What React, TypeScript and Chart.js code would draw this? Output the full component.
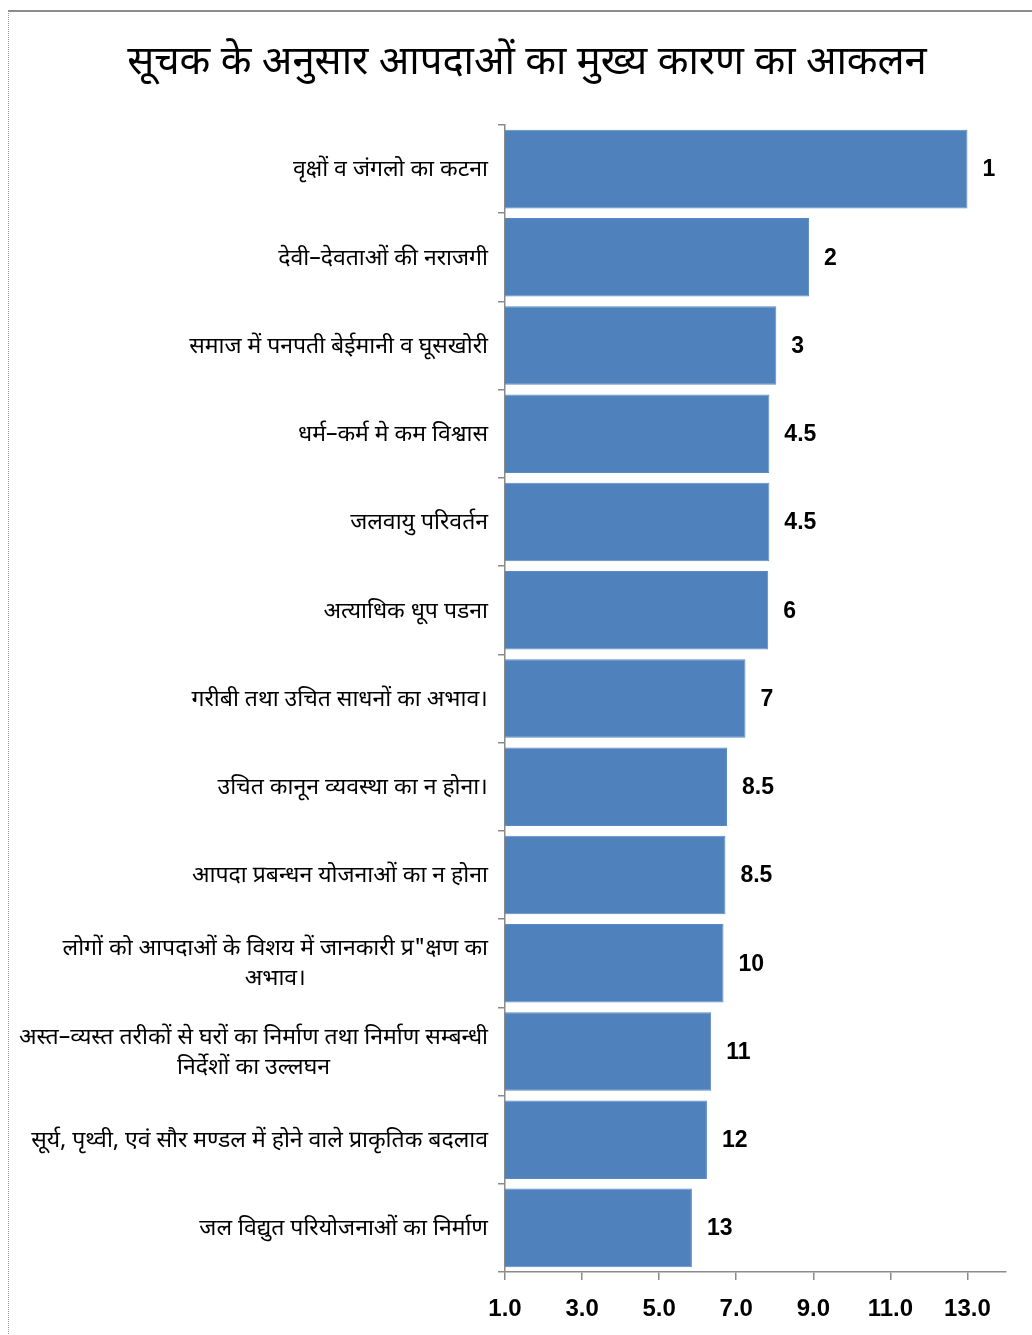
import React, { useEffect, useRef } from "react";
import { Chart, registerables } from "chart.js";

Chart.register(...registerables);

const titleText = "सूचक के अनुसार आपदाओं का मुख्य कारण का आकलन";

const categories: (string | string[])[] = [
  "वृक्षों व जंगलो का कटना",
  "देवी–देवताओं की नराजगी",
  "समाज में पनपती बेईमानी व घूसखोरी",
  "धर्म–कर्म मे कम विश्वास",
  "जलवायु परिवर्तन",
  "अत्याधिक धूप पडना",
  "गरीबी तथा उचित साधनों का अभाव।",
  "उचित कानून व्यवस्था का न होना।",
  "आपदा प्रबन्धन योजनाओं का न होना",
  ["लोगों को आपदाओं के विशय में जानकारी प्र\"क्षण का", "अभाव।"],
  ["अस्त–व्यस्त तरीकों से घरों का निर्माण तथा निर्माण सम्बन्धी", "निर्देशों का उल्लघन"],
  "सूर्य, पृथ्वी, एवं सौर मण्डल में होने वाले प्राकृतिक बदलाव",
  "जल विद्युत परियोजनाओं का निर्माण",
];

const scores = [13.0, 8.89, 8.04, 7.86, 7.86, 7.83, 7.24, 6.76, 6.72, 6.67, 6.35, 6.24, 5.85];

const rankLabels = ["1", "2", "3", "4.5", "4.5", "6", "7", "8.5", "8.5", "10", "11", "12", "13"];

const xTickValues = [1, 3, 5, 7, 9, 11, 13];

const HINDI_FONT = "'Noto Sans Devanagari', 'Lohit Devanagari', 'Noto Sans', sans-serif";
const NUM_FONT = "'Liberation Sans Narrow', 'Arial Narrow', 'Liberation Sans', sans-serif";

const yLabelPlugin = {
  id: "yLabelPlugin",
  afterDraw(chart: any) {
    const ctx = chart.ctx;
    const yScale = chart.scales.y;
    ctx.save();
    ctx.font = `23px ${HINDI_FONT}`;
    ctx.fillStyle = "#000";
    ctx.textBaseline = "middle";
    ctx.textAlign = "center";
    const rightEdge = 488;
    const lineH = 30;
    categories.forEach((lab, i) => {
      const lines = Array.isArray(lab) ? lab : [lab];
      const y = yScale.getPixelForValue(i) + 3;
      const widest = Math.max(...lines.map((l) => ctx.measureText(l).width));
      const cx = rightEdge - widest / 2;
      const y0 = y - ((lines.length - 1) * lineH) / 2;
      lines.forEach((l, j) => ctx.fillText(l, cx, y0 + j * lineH));
    });
    ctx.restore();
  },
};

const valueLabelPlugin = {
  id: "valueLabelPlugin",
  afterDatasetsDraw(chart: any) {
    const ctx = chart.ctx;
    const meta = chart.getDatasetMeta(0);
    ctx.save();
    ctx.font = `bold 23px ${NUM_FONT}`;
    ctx.fillStyle = "#000";
    ctx.textBaseline = "middle";
    ctx.textAlign = "left";
    meta.data.forEach((el: any, i: number) => {
      ctx.fillText(rankLabels[i], el.x + 15, el.y + 1);
    });
    ctx.restore();
  },
};

export default function App() {
  const canvasRef = useRef<HTMLCanvasElement | null>(null);

  useEffect(() => {
    if (!canvasRef.current) return;
    const chart = new Chart(canvasRef.current, {
      type: "bar",
      data: {
        labels: categories as any,
        datasets: [
          {
            data: scores,
            backgroundColor: "#4F81BD",
            borderColor: "#5A8AC6",
            borderWidth: 1,
            barPercentage: 0.89,
            categoryPercentage: 1.0,
          },
        ],
      },
      options: {
        indexAxis: "y",
        animation: false,
        responsive: true,
        maintainAspectRatio: false,
        layout: { padding: { left: 48, right: 26, top: 0, bottom: 0 } },
        plugins: {
          legend: { display: false },
          tooltip: { enabled: false },
          title: {
            display: true,
            text: titleText,
            color: "#000",
            font: { family: HINDI_FONT, size: 40, weight: "normal" },
            padding: { top: 43, bottom: 34 },
          },
        },
        scales: {
          x: {
            type: "linear",
            min: 1,
            max: 14,
            afterBuildTicks: (scale: any) => {
              scale.ticks = xTickValues.map((v) => ({ value: v }));
            },
            afterFit: (scale: any) => {
              scale.height = 63;
            },
            ticks: {
              color: "#000",
              font: { family: NUM_FONT, size: 24, weight: "bold" },
              padding: 15,
              callback: (v: any) => Number(v).toFixed(1),
            },
            grid: {
              display: true,
              drawOnChartArea: false,
              drawTicks: true,
              tickLength: 8,
              color: "#8a8a8a",
              lineWidth: 1.5,
            },
            border: { display: true, color: "#8a8a8a", width: 1.5 },
          },
          y: {
            type: "category",
            afterFit: (scale: any) => {
              scale.width = 505 - 48;
            },
            ticks: { display: false },
            grid: {
              display: true,
              offset: true,
              drawOnChartArea: false,
              drawTicks: true,
              tickLength: 7,
              color: "#8a8a8a",
              lineWidth: 1.5,
            },
            border: { display: true, color: "#8a8a8a", width: 1.5 },
          },
        },
      },
      plugins: [yLabelPlugin, valueLabelPlugin],
    });
    return () => chart.destroy();
  }, []);

  return (
    <div
      style={{
        position: "fixed",
        left: 0,
        top: 0,
        width: 1032,
        height: 1335,
        background: "#fff",
        overflow: "hidden",
      }}
    >
      <canvas ref={canvasRef} />
      <div
        style={{
          position: "absolute",
          left: 8,
          top: 10,
          width: 1040,
          height: 1340,
          borderTop: "2px solid #8c8c8c",
          borderLeft: "1px dotted #9a9a9a",
          pointerEvents: "none",
        }}
      />
    </div>
  );
}
